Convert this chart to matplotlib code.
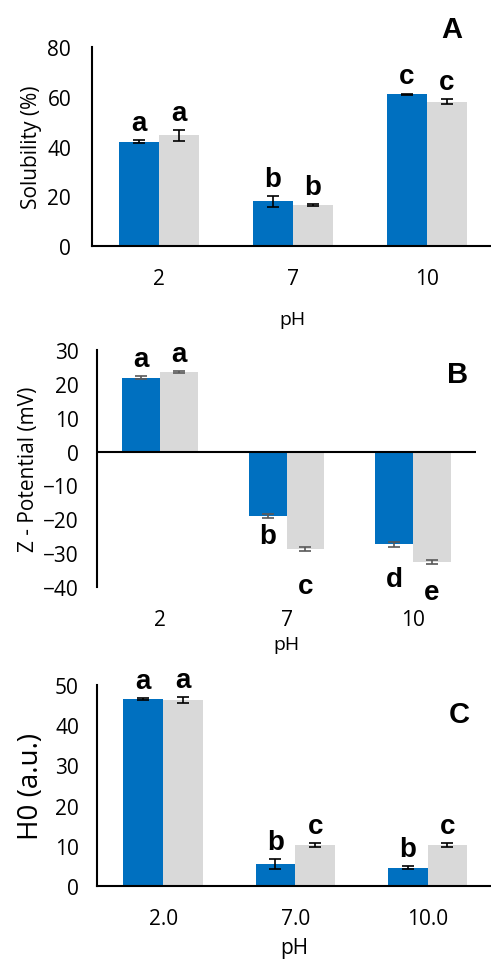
import numpy as np
import matplotlib
matplotlib.use("Agg")
import matplotlib.pyplot as plt

# pH groups
ph_labels = ['2', '7', '10']
ph_labels_c = ['2.0', '7.0', '10.0']

# Panel A - solubility (%)
sol_blue = [42.0, 18.0, 61.0]
sol_blue_err = [0.6, 2.2, 0.3]
sol_gray = [44.5, 16.5, 58.0]
sol_gray_err = [2.2, 0.3, 1.0]
sol_blue_let = ['a', 'b', 'c']
sol_gray_let = ['a', 'b', 'c']

# Panel B - zeta potential (mV)
zeta_blue = [21.8, -19.0, -27.4]
zeta_blue_err = [0.5, 0.6, 0.7]
zeta_gray = [23.4, -28.8, -32.6]
zeta_gray_err = [0.3, 0.5, 0.5]
zeta_blue_let = ['a', 'b', 'd']
zeta_gray_let = ['a', 'c', 'e']

# Panel C - surface hydrophobicity H0 (a.u.)
h0_blue = [46.5, 5.5, 4.6]
h0_blue_err = [0.2, 1.2, 0.3]
h0_gray = [46.3, 10.2, 10.1]
h0_gray_err = [0.7, 0.5, 0.5]
h0_blue_let = ['a', 'b', 'b']
h0_gray_let = ['a', 'c', 'c']

BLUE = '#0070C0'
GRAY = '#D9D9D9'
TICK_FONT = 'Open Sans'
LET_FONT = 'Liberation Sans'

fig = plt.figure(figsize=(4.91, 9.62), dpi=100)
W, H = 491.0, 962.0


def make_axes(left, right, top, bottom):
    return fig.add_axes([left / W, 1 - bottom / H, (right - left) / W, (bottom - top) / H])


def draw_panel(ax, blue, blue_err, gray, gray_err, blue_let, gray_let, xlabels,
               errcolor, below_offset=None):
    x = np.arange(len(blue))
    w = 0.3
    for vals, errs, lets, off, col in [(blue, blue_err, blue_let, -w / 2, BLUE),
                                       (gray, gray_err, gray_let, w / 2, GRAY)]:
        ax.bar(x + off, vals, width=w, color=col, zorder=2)
        ax.errorbar(x + off, vals, yerr=errs, fmt='none', ecolor=errcolor,
                    elinewidth=1.2, capsize=4, capthick=1.2, zorder=3)
        for xi, v, e, t in zip(x + off, vals, errs, lets):
            if v >= 0:
                ax.annotate(t, (xi, v + e), xytext=(0, 3), textcoords='offset points',
                            ha='center', va='bottom', fontsize=20, fontweight='bold',
                            family=LET_FONT)
            else:
                dy = below_offset[t]
                ax.annotate(t, (xi, v - e), xytext=(0, -dy), textcoords='offset points',
                            ha='center', va='top', fontsize=20, fontweight='bold',
                            family=LET_FONT, annotation_clip=False)
    ax.set_xticks(x)
    ax.set_xticklabels(xlabels)
    for s in ['top', 'right']:
        ax.spines[s].set_visible(False)
    ax.spines['left'].set_linewidth(1.5)
    ax.spines['bottom'].set_linewidth(1.5)
    ax.tick_params(length=0, labelsize=15)
    ax.tick_params(axis='x', pad=16)
    for lab in ax.get_xticklabels() + ax.get_yticklabels():
        lab.set_family(TICK_FONT)


# Panel A
axA = make_axes(92, 491, 48, 247)
draw_panel(axA, sol_blue, sol_blue_err, sol_gray, sol_gray_err, sol_blue_let,
           sol_gray_let, ph_labels, 'black')
axA.set_xlim(-0.5, 2.48)
axA.set_ylim(0, 80)
axA.set_yticks([0, 20, 40, 60, 80])
axA.tick_params(axis='y', pad=15)
axA.set_ylabel('Solubility (%)', family=TICK_FONT, fontsize=15, labelpad=4)
fig.text(292 / W, 1 - 320 / H, 'pH', family=TICK_FONT, fontsize=14,
         ha='center', va='center')
fig.text(452 / W, 1 - 30 / H, 'A', fontsize=21, fontweight='bold', family=LET_FONT,
         ha='center', va='center')

# Panel B
axB = make_axes(97, 476, 351, 588)
draw_panel(axB, zeta_blue, zeta_blue_err, zeta_gray, zeta_gray_err, zeta_blue_let,
           zeta_gray_let, ph_labels, '#595959',
           below_offset={'b': 4, 'c': 16, 'd': 14, 'e': 11})
axB.set_xlim(-0.5, 2.5)
axB.set_ylim(-40, 30)
axB.set_yticks(np.arange(-40, 31, 10))
axB.spines['bottom'].set_visible(False)
axB.axhline(0, color='black', lw=1.5, zorder=4)
axB.tick_params(axis='y', pad=13)
axB.set_ylabel('Z - Potential (mV)', family=TICK_FONT, fontsize=15, labelpad=3)
fig.text(286 / W, 1 - 645 / H, 'pH', family=TICK_FONT, fontsize=14,
         ha='center', va='center')
fig.text(458 / W, 1 - 375 / H, 'B', fontsize=21, fontweight='bold', family=LET_FONT,
         ha='center', va='center')

# Panel C
axC = make_axes(97, 491, 686, 887)
draw_panel(axC, h0_blue, h0_blue_err, h0_gray, h0_gray_err, h0_blue_let,
           h0_gray_let, ph_labels_c, 'black')
axC.set_xlim(-0.5, 2.48)
axC.set_ylim(0, 50)
axC.set_yticks(np.arange(0, 51, 10))
axC.tick_params(axis='y', pad=13)
axC.set_ylabel('H0 (a.u.)', family=TICK_FONT, fontsize=20, labelpad=7)
fig.text(294 / W, 1 - 949 / H, 'pH', family=TICK_FONT, fontsize=15,
         ha='center', va='center')
fig.text(459 / W, 1 - 715 / H, 'C', fontsize=21, fontweight='bold', family=LET_FONT,
         ha='center', va='center')

fig.savefig('out.png', dpi=100)
